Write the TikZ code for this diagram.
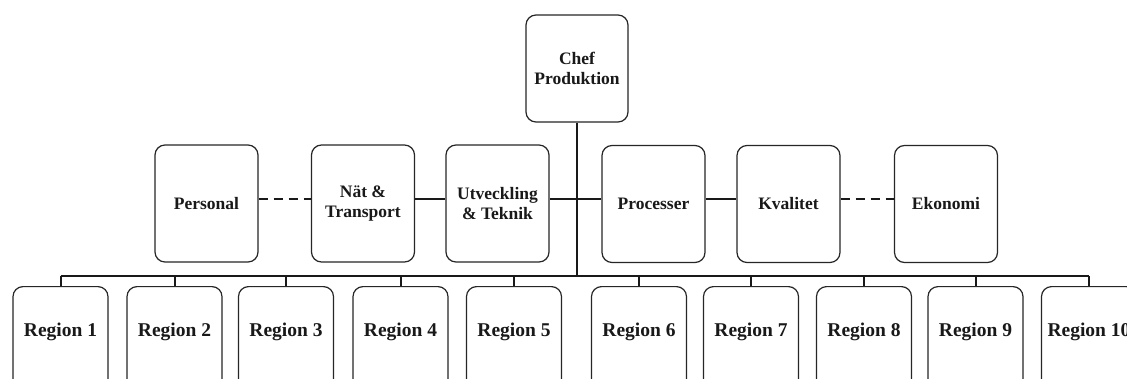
\documentclass[tikz,border=0pt]{standalone}
\usepackage{fontspec}
\setmainfont{Liberation Serif}
\begin{document}
\begin{tikzpicture}[x=1pt,y=-1pt,
  box/.style={draw=black!85, line width=1.2pt, rounded corners=10pt, fill=white,
    align=center, font=\fontsize{17.5}{19.5}\selectfont\bfseries, text=black!90},
  topbox/.style={box, minimum width=103pt, minimum height=117pt},
  regbox/.style={box, anchor=north, minimum width=95pt, inner sep=0pt,
    text height=50pt, text depth=62pt, font=\fontsize{19.5}{22}\selectfont\bfseries},
  link/.style={line width=2pt, black!90},
  dlink/.style={link, dash pattern=on 9pt off 6pt}]
\useasboundingbox (0,0) rectangle (1127,378);
\clip (0,0) rectangle (1127,378);

\node[box, minimum width=102pt, minimum height=107pt] (chef) at (577,68.5) {Chef\\Produktion};

\node[topbox] (pers) at (206.5,203.5) {Personal};
\node[topbox] (nat)  at (363,203.5) {Nät \&\\Transport};
\node[topbox] (utv)  at (497.5,203.5) {Utveckling\\\& Teknik};
\node[topbox] (proc) at (653.5,204) {Processer};
\node[topbox] (kval) at (788.5,204) {Kvalitet};
\node[topbox] (eko)  at (946,204) {Ekonomi};

\node[regbox] (r1)  at (60.5,286) {Region 1};
\node[regbox] (r2)  at (174.5,286) {Region 2};
\node[regbox] (r3)  at (286,286) {Region 3};
\node[regbox] (r4)  at (400.5,286) {Region 4};
\node[regbox] (r5)  at (514,286) {Region 5};
\node[regbox] (r6)  at (639,286) {Region 6};
\node[regbox] (r7)  at (751,286) {Region 7};
\node[regbox] (r8)  at (864,286) {Region 8};
\node[regbox] (r9)  at (975.5,286) {Region 9};
\node[regbox] (r10) at (1089,286) {Region 10};

\coordinate (mid) at (577,199);
\coordinate (bus) at (577,276);

\draw[link] (chef.south) -- (bus);
\draw[link] (utv.east |- mid) -- (mid) -- (proc.west |- mid);
\draw[link] (nat.east |- mid) -- (utv.west |- mid);
\draw[link] (proc.east |- mid) -- (kval.west |- mid);
\draw[dlink] (pers.east |- mid) -- (nat.west |- mid);
\draw[dlink] (kval.east |- mid) -- (eko.west |- mid);

\draw[link] (r1.north |- bus) -- (r10.north |- bus);
\foreach \r in {r1,r2,r3,r4,r5,r6,r7,r8,r9,r10}
  \draw[link] (\r.north) -- (\r.north |- bus);
\end{tikzpicture}
\end{document}
